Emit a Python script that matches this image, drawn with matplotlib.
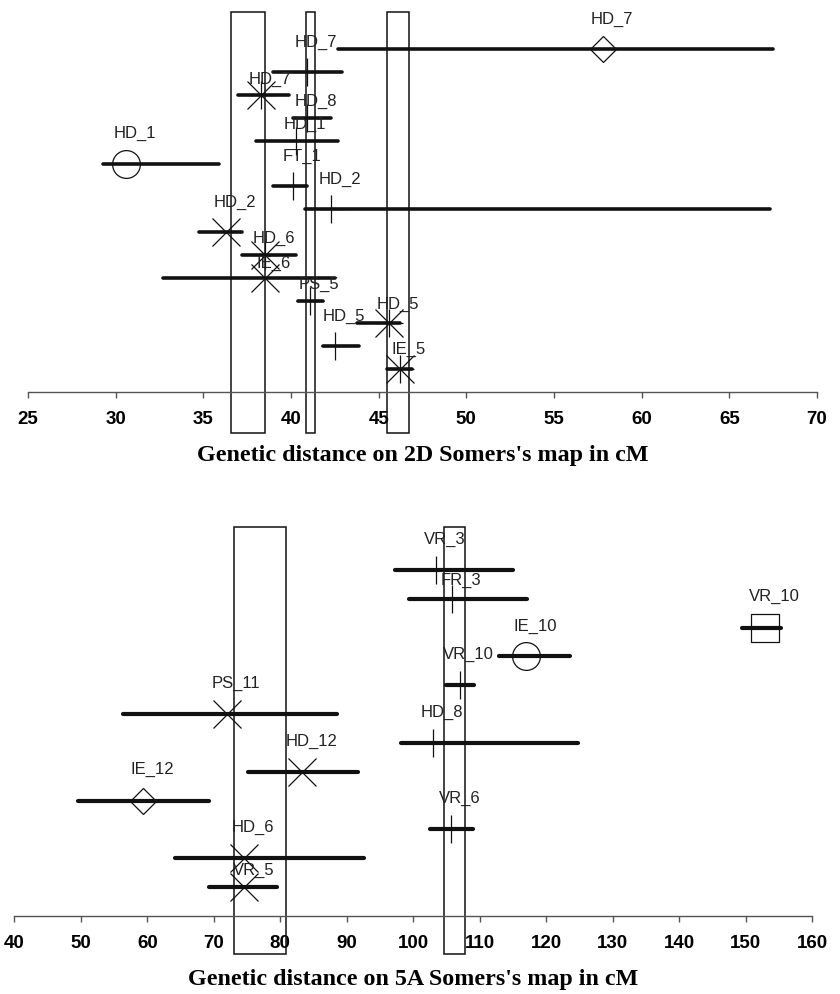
import matplotlib
matplotlib.use('Agg')
import matplotlib.pyplot as plt
from matplotlib.patches import Rectangle

# chromosome 2D, rows listed from top to bottom
labels_2d = ["HD_7", "HD_7", "HD_7", "HD_8", "HD_1", "HD_1", "FT_1", "HD_2",
             "HD_2", "HD_6", "IE_6", "PS_5", "HD_5", "HD_5", "IE_5"]
peak_2d = [57.8, 40.9, 38.3, 40.9, 40.3, 30.6, 40.1, 42.3,
           36.3, 38.5, 38.5, 41.1, 45.6, 42.5, 46.2]
low_2d = [42.7, 39.0, 37.0, 40.1, 38.0, 29.3, 39.0, 40.8,
          34.75, 37.2, 32.7, 40.4, 43.75, 41.8, 45.5]
high_2d = [67.5, 42.9, 39.9, 42.3, 42.7, 35.9, 40.9, 67.3,
           37.2, 40.3, 42.5, 41.8, 46.2, 43.9, 46.9]
kind_2d = ["diamond", "plus", "star", "plus", "plus", "circle", "plus", "plus",
           "cross", "star", "cross", "plus", "star", "plus", "star"]
region_start_2d = [36.6, 40.85, 45.45]
region_end_2d = [38.5, 41.35, 46.75]
ticks_2d = [25, 30, 35, 40, 45, 50, 55, 60, 65, 70]

# chromosome 5A
labels_5a = ["VR_3", "FR_3", "VR_10", "IE_10", "VR_10", "PS_11", "HD_8",
             "HD_12", "IE_12", "VR_6", "HD_6", "VR_5"]
peak_5a = [103.4, 105.8, 153.0, 117.0, 107.0, 72.0, 103.0,
           83.3, 59.4, 105.7, 74.6, 74.6]
low_5a = [97.2, 99.4, 149.5, 112.9, 104.9, 56.4, 98.2,
          75.1, 49.6, 102.5, 64.1, 69.3]
high_5a = [115.0, 117.1, 155.4, 123.6, 109.2, 88.6, 124.8,
           91.7, 69.3, 109.0, 92.6, 79.5]
kind_5a = ["plus", "plus", "square", "circle", "plus", "cross", "plus",
           "cross", "diamond", "plus", "cross", "cross"]
region_start_5a = [73.0, 104.6]
region_end_5a = [80.8, 107.8]
ticks_5a = [40, 50, 60, 70, 80, 90, 100, 110, 120, 130, 140, 150, 160]

# how high each name sits above its marker (pixels)
lift_2d = [30, 30, 16, 16, 16, 30, 30, 30, 30, 17, 14, 16, 19, 30, 20]
lift_5a = [30, 18, 31, 30, 31, 31, 30, 30, 31, 31, 31, 17]

INK = '#111111'


def draw_marker(ax, x, y, kind):
    opts = dict(color=INK, markeredgewidth=0.9, fillstyle='none',
                linestyle='none', zorder=4)
    if kind == 'plus':
        ax.plot(x, y, marker='+', markersize=20, **opts)
    elif kind == 'cross':
        ax.plot(x, y, marker='x', markersize=20, **opts)
    elif kind == 'star':
        ax.plot(x, y, marker='x', markersize=20, **opts)
        ax.plot(x, y, marker='+', markersize=20, **opts)
    elif kind == 'circle':
        ax.plot(x, y, marker='o', markersize=20, **opts)
    elif kind == 'diamond':
        ax.plot(x, y, marker='D', markersize=13.5, **opts)
    elif kind == 'square':
        ax.plot(x, y, marker='s', markersize=20, **opts)


def draw_panel(ax, labels, peak, low, high, kind, lift, rstart, rend,
               ticks, xlabel, rect_span, bar_lw):
    n = len(labels)
    ys = [n - i for i in range(n)]
    for a, b in zip(rstart, rend):
        ax.add_patch(Rectangle((a, rect_span[0]), b - a,
                               rect_span[1] - rect_span[0], fill=False,
                               edgecolor=INK, linewidth=1.1, clip_on=False,
                               zorder=2))
    for i in range(n):
        ax.plot([low[i], high[i]], [ys[i], ys[i]], color=INK, linewidth=bar_lw,
                solid_capstyle='round', zorder=3)
        draw_marker(ax, peak[i], ys[i], kind[i])
        ax.annotate(labels[i], (peak[i], ys[i]), xytext=(9, lift[i]),
                    textcoords='offset pixels', ha='center', va='center',
                    fontsize=12, family='Liberation Sans', color='#222222',
                    zorder=5)
    ax.set_xlim(ticks[0], ticks[-1])
    ax.set_xticks(ticks)
    ax.set_xticklabels([str(t) for t in ticks], fontsize=13.5,
                       fontweight='bold', family='Liberation Sans')
    ax.set_yticks([])
    for side in ['top', 'left', 'right']:
        ax.spines[side].set_visible(False)
    ax.spines['bottom'].set_color('#555555')
    ax.spines['bottom'].set_linewidth(1.0)
    ax.tick_params(axis='x', direction='out', length=4, width=1.0,
                   color='#555555', pad=10)
    ax.set_xlabel(xlabel, fontsize=17.3, fontweight='bold',
                  family='Liberation Serif', labelpad=12)
    ax.patch.set_alpha(0)


fig = plt.figure(figsize=(8.4, 9.94), dpi=100)

ax1 = fig.add_axes([28 / 840, (994 - 392) / 994, 789 / 840, 17 * 22.84 / 994])
ax1.set_ylim(0, 17)
draw_panel(ax1, labels_2d, peak_2d, low_2d, high_2d, kind_2d, lift_2d,
           region_start_2d, region_end_2d, ticks_2d,
           "Genetic distance on 2D Somers's map in cM", (-1.8, 16.64), 2.6)

ax2 = fig.add_axes([14.3 / 840, (994 - 916) / 994, 797.7 / 840, 14 * 28.85 / 994])
ax2.set_ylim(0, 14)
draw_panel(ax2, labels_5a, peak_5a, low_5a, high_5a, kind_5a, lift_5a,
           region_start_5a, region_end_5a, ticks_5a,
           "Genetic distance on 5A Somers's map in cM", (-1.32, 13.5), 3.0)

fig.savefig('out.png', dpi=100)
